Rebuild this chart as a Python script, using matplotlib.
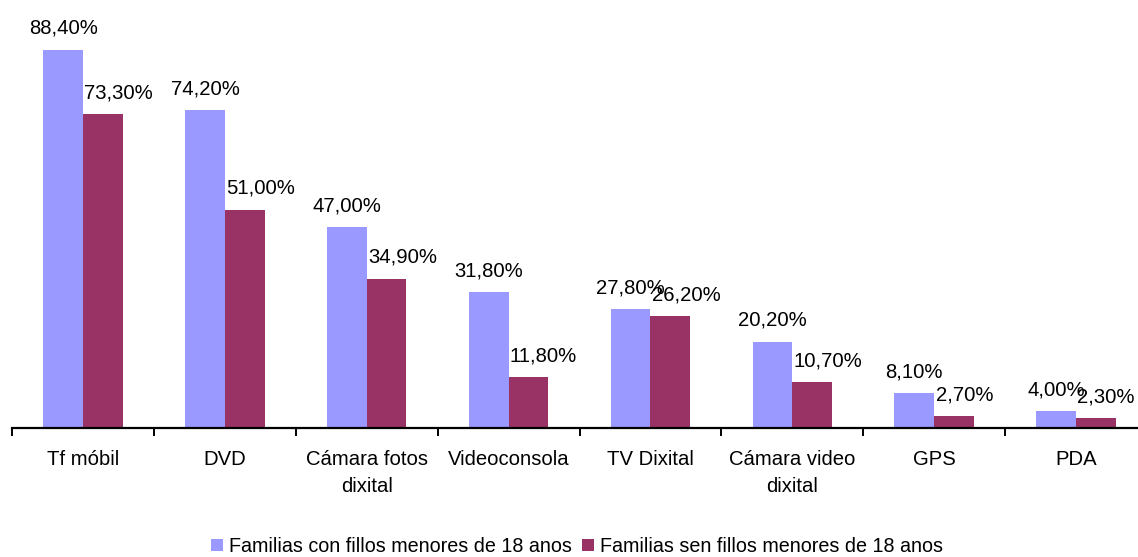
import matplotlib
matplotlib.use("Agg")
import matplotlib.pyplot as plt
import numpy as np

categories = ["Tf móbil", "DVD", "Cámara fotos\ndixital", "Videoconsola",
              "TV Dixital", "Cámara video\ndixital", "GPS", "PDA"]
con_fillos = [88.4, 74.2, 47.0, 31.8, 27.8, 20.2, 8.1, 4.0]
sen_fillos = [73.3, 51.0, 34.9, 11.8, 26.2, 10.7, 2.7, 2.3]
series_names = ["Familias con fillos menores de 18 anos",
                "Familias sen fillos menores de 18 anos"]

plt.rcParams["font.family"] = ["Liberation Sans", "DejaVu Sans"]

fig = plt.figure(figsize=(11.38, 5.57), dpi=100)
ax = fig.add_axes([12 / 1138, 1 - 428 / 557, 1135 / 1138, 428 / 557])

x = np.arange(len(categories))
w = 0.28
light = "#9999FF"
dark = "#993366"
fs = 14.6

b1 = ax.bar(x - w / 2, con_fillos, w, color=light, label=series_names[0])
b2 = ax.bar(x + w / 2, sen_fillos, w, color=dark, label=series_names[1])

def fmt(v):
    return f"{v:.2f}%".replace(".", ",")

for xi, v in zip(x, con_fillos):
    ax.annotate(fmt(v), (xi - w / 2, v), xytext=(0, 8.5), textcoords="offset points",
                ha="center", va="bottom", fontsize=fs)
for xi, v in zip(x, sen_fillos):
    ax.annotate(fmt(v), (xi, v), xytext=(1, 8.5), textcoords="offset points",
                ha="left", va="bottom", fontsize=fs)

ax.set_xlim(-0.5, len(categories) - 0.5)
ax.set_ylim(0, 100)

for s in ["top", "right", "left"]:
    ax.spines[s].set_visible(False)
ax.spines["bottom"].set_linewidth(1.6)
ax.set_yticks([])

ax.set_xticks(x)
ax.set_xticklabels(categories, fontsize=fs, linespacing=1.5, va="top")
ax.tick_params(axis="x", which="major", length=0, pad=16)
ax.set_xticks(np.arange(len(categories) + 1) - 0.5, minor=True)
ax.tick_params(axis="x", which="minor", length=6, width=1.4, direction="out")

fig.legend(handles=[b1, b2], loc="lower center", bbox_to_anchor=(0.507, -0.03),
           ncol=2, frameon=False, fontsize=14.2, handlelength=0.6, handleheight=0.6,
           handletextpad=0.3, columnspacing=0.55)

fig.savefig("out.png", dpi=100)
